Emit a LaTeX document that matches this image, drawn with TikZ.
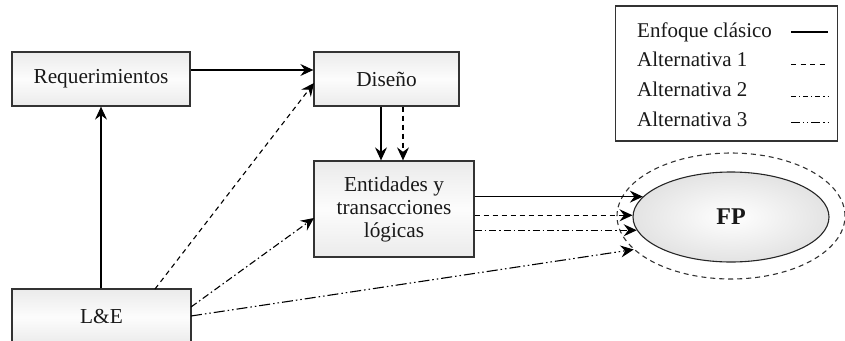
\documentclass[tikz,border=0pt]{standalone}
\usepackage{fontspec}
\setmainfont{Liberation Serif}
\usetikzlibrary{arrows.meta,shapes.geometric}
\begin{document}
\begin{tikzpicture}[x=1pt,y=-1pt,
  every node/.style={font=\fontsize{21.3}{23}\selectfont, text=black!90},
  blk/.style={draw=black!80, line width=1.3pt, rectangle, inner sep=0pt,
    top color=gray!16, bottom color=gray!16, middle color=gray!2, align=center},
  conn/.style={line width=1.1pt, -{Stealth[length=13pt,width=12pt,inset=4.5pt]}},
  alta/.style={dash pattern=on 5pt off 4pt},
  altb/.style={dash pattern=on 7pt off 3pt on 1.5pt off 3pt},
  altc/.style={dash pattern=on 11pt off 3pt on 1.5pt off 3pt on 1.5pt off 3pt},
  leg/.style={anchor=base west, inner sep=0pt, font=\fontsize{21}{23}\selectfont}
]
\useasboundingbox (0,0) rectangle (845,340);
% boxes
\node[blk, minimum width=178pt, minimum height=54pt] (req) at (101,79) {Requerimientos};
\node[blk, minimum width=145pt, minimum height=54pt] (dis) at (386.5,79) {Diseño};
\node[blk, minimum width=160pt, minimum height=96pt] (ent) at (394,209) {Entidades y\\transacciones\\lógicas};
\node[blk, minimum width=179pt, minimum height=56pt] (le) at (101.5,317) {L\&E};
% FP ellipses
\node[ellipse, draw=black!80, alta, line width=1.1pt, minimum width=228pt, minimum height=126pt, inner sep=0pt] (fpo) at (731,216) {};
\node[ellipse, draw=black!85, line width=1.1pt, minimum width=196pt, minimum height=90pt, inner sep=0pt,
  inner color=white, outer color=gray!22, font=\fontsize{24}{26}\selectfont\bfseries] (fp) at (731,217) {FP};
% connector endpoints
\coordinate (dise) at (314,83);
\coordinate (lea) at (155,289);
\coordinate (leb) at (191,307);
\coordinate (lec) at (191,316);
\coordinate (enta) at (314,218);
% connectors
\draw[conn] (req.east |- 0,70) -- (dis.west |- 0,70);
\draw[conn] (le.north -| req.south) -- (req.south);
\draw[conn, alta] (lea) -- (dise);
\draw[conn, altb] (leb) -- (enta);
\draw[conn, altc] (lec) -- (fpo.199);
\draw[conn] (dis.south -| 381,0) -- (ent.north -| 381,0);
\draw[conn, alta] (dis.south -| 403,0) -- (ent.north -| 403,0);
\draw[conn] (ent.east |- fp.167) -- (fp.167);
\draw[conn, alta] (ent.east |- fp.179) -- (fp.179);
\draw[conn, altb] (ent.east |- fp.188.5) -- (fp.188.5);
% legend
\node[draw=black!80, line width=1.3pt, fill=white, minimum width=222pt, minimum height=135pt, inner sep=0pt] (legbox) at (726.5,73.5) {};
\node[leg] (l0) at (637,37) {Enfoque clásico};
\node[leg] (l1) at (637,66) {Alternativa 1};
\node[leg] (l2) at (637,96) {Alternativa 2};
\node[leg] (l3) at (637,126) {Alternativa 3};
\coordinate (s0a) at (791,32); \coordinate (s0b) at (828,32);
\coordinate (s1a) at (791,64); \coordinate (s1b) at (828,64);
\coordinate (s2a) at (791,96); \coordinate (s2b) at (828,96);
\coordinate (s3a) at (791,122); \coordinate (s3b) at (828,122);
\draw[line width=1.1pt] (s0a) -- (s0b);
\draw[line width=1pt, dash pattern=on 5pt off 4.5pt] (s1a) -- (s1b);
\draw[line width=1pt, dash pattern=on 5pt off 3pt on 1.2pt off 3pt] (s2a) -- (s2b);
\draw[line width=1pt, dash pattern=on 9pt off 3pt on 1.2pt off 3pt on 1.2pt off 3pt] (s3a) -- (s3b);
\end{tikzpicture}
\end{document}
